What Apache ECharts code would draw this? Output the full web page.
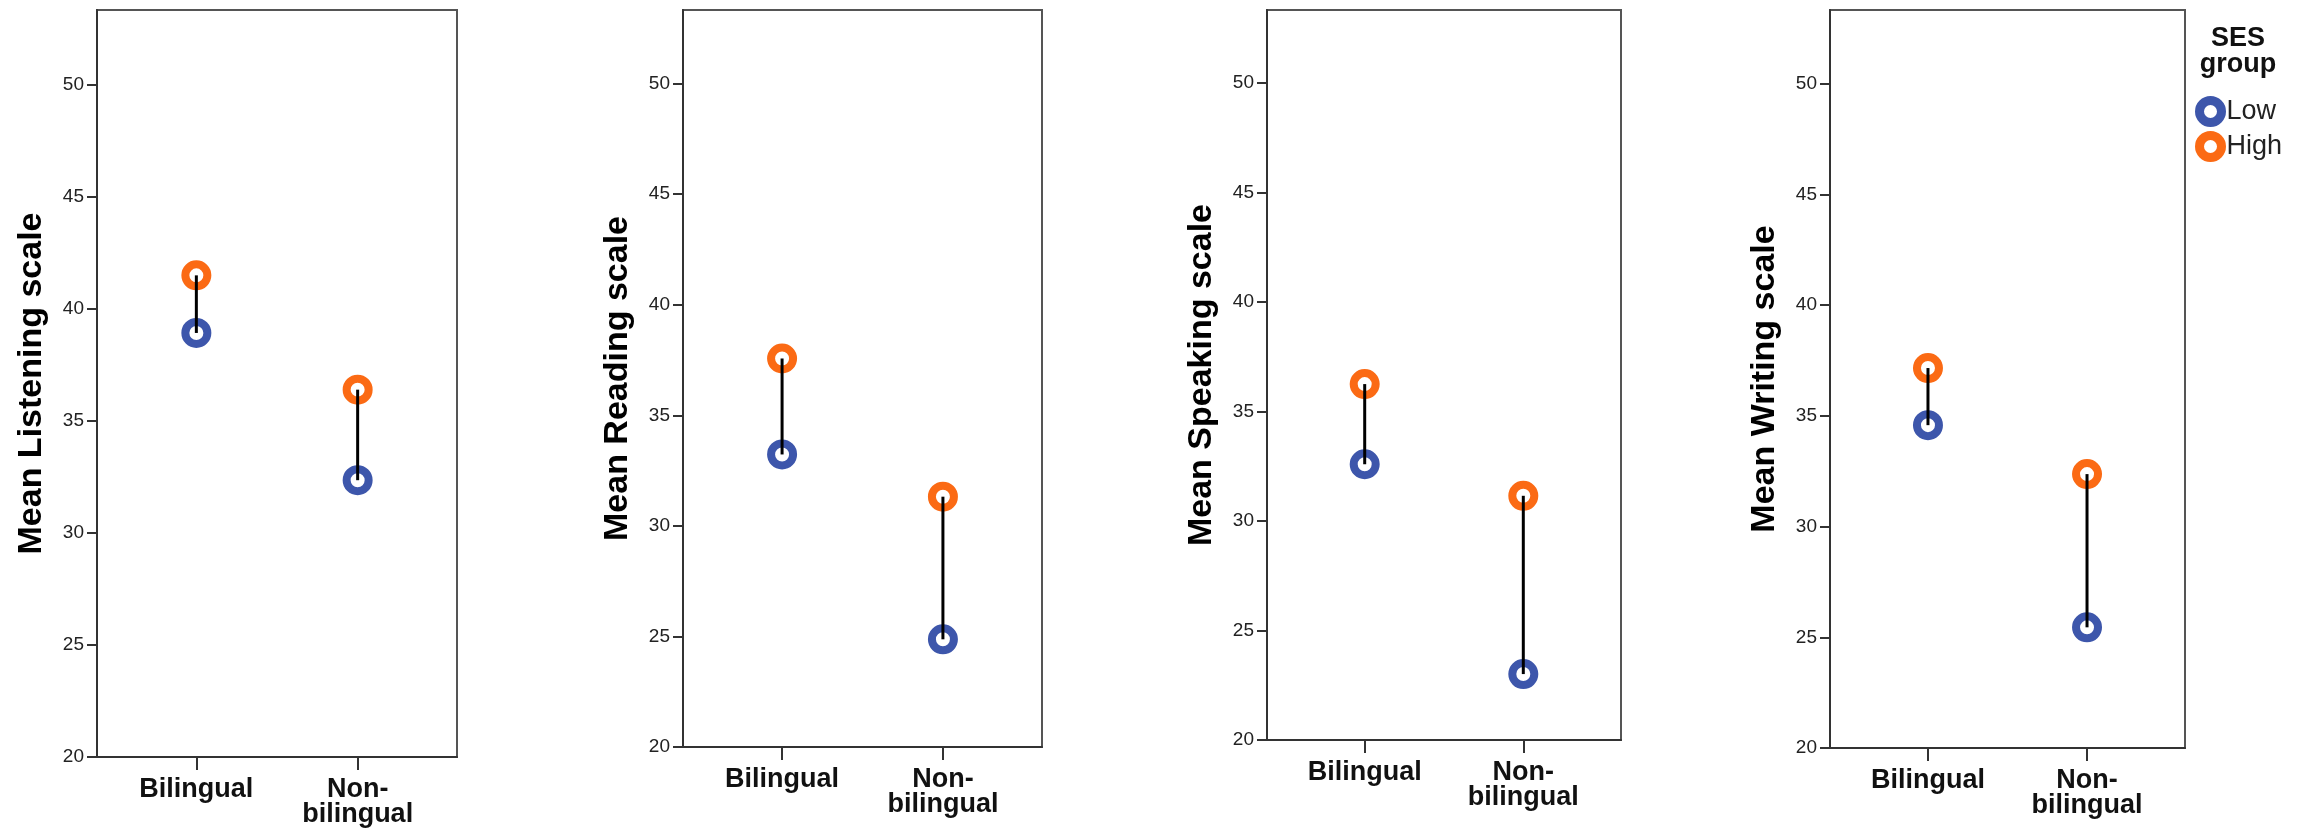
<!DOCTYPE html>
<html>
<head>
<meta charset="utf-8">
<title>Mean language scales by bilingual status and SES group</title>
<script src="https://cdn.jsdelivr.net/npm/echarts@6/dist/echarts.min.js"></script>
<style>
  html, body { margin: 0; padding: 0; background: #fff; }
  #chart { width: 2303px; height: 828px; }
</style>
</head>
<body>
<div id="chart"></div>
<script>
// Groups on the x axis and their displayed tick labels
const categories = ['Bilingual', 'Non-bilingual'];
const categoryLabels = ['Bilingual', 'Non-\nbilingual'];

// One panel per language scale
const scales = ['Listening', 'Reading', 'Speaking', 'Writing'];

// Mean scores, [Bilingual, Non-bilingual], per SES group
const lowListening  = [38.92, 32.35];
const highListening = [41.49, 36.39];
const lowReading    = [33.23, 24.87];
const highReading   = [37.57, 31.32];
const lowSpeaking   = [32.59, 23.01];
const highSpeaking  = [36.25, 31.15];
const lowWriting    = [34.58, 25.45];
const highWriting   = [37.16, 32.37];

// Y-axis tick values
const yTicks = [20, 25, 30, 35, 40, 45, 50];

const lowSeries  = [lowListening, lowReading, lowSpeaking, lowWriting];
const highSeries = [highListening, highReading, highSpeaking, highWriting];

const FONT = "'Liberation Sans', Arial, Helvetica, sans-serif";
const BLUE = '#3d56ab';
const ORANGE = '#fb6a14';
const Y_MIN = 20, Y_MAX = 53.33;

// Plot-box placement of each panel
const boxes = [
  { left: 97,   right: 457,  top: 10, bottom: 757 },
  { left: 683,  right: 1042, top: 10, bottom: 747 },
  { left: 1267, right: 1621, top: 10, bottom: 740 },
  { left: 1830, right: 2185, top: 10, bottom: 748 }
];

const grids = [], xAxes = [], yAxes = [], series = [];

scales.forEach((scale, i) => {
  const b = boxes[i];
  grids.push({
    left: b.left, top: b.top, width: b.right - b.left, height: b.bottom - b.top,
    show: true, borderColor: '#555', borderWidth: 2, backgroundColor: 'transparent'
  });
  xAxes.push({
    gridIndex: i, type: 'value', min: -0.616, max: 1.616,
    axisLine: { show: true, onZero: false, lineStyle: { color: '#333', width: 2 } },
    axisTick: { show: true, length: 13, customValues: [0, 1], lineStyle: { color: '#333', width: 2 } },
    axisLabel: {
      customValues: [0, 1], margin: 20,
      formatter: v => categoryLabels[Math.round(v)],
      fontFamily: FONT, fontSize: 27, fontWeight: 'bold', color: '#111', lineHeight: 25
    },
    splitLine: { show: false }
  });
  yAxes.push({
    gridIndex: i, type: 'value', min: Y_MIN, max: Y_MAX,
    axisLine: { show: true, onZero: false, lineStyle: { color: '#333', width: 2 } },
    axisTick: { show: true, length: 10, customValues: yTicks, lineStyle: { color: '#333', width: 2 } },
    axisLabel: { customValues: yTicks, margin: 13, fontFamily: FONT, fontSize: 19, color: '#222' },
    splitLine: { show: false },
    name: 'Mean ' + scale + ' scale', nameLocation: 'middle', nameRotate: 90, nameGap: 48,
    nameTextStyle: { fontFamily: FONT, fontSize: 34, fontWeight: 'bold', color: '#000' }
  });

  // Connector between the two SES means of each group
  series.push({
    type: 'custom', xAxisIndex: i, yAxisIndex: i, z: 5, silent: true,
    data: categories.map((c, k) => [k, lowSeries[i][k], highSeries[i][k]]),
    encode: { x: 0, y: [1, 2] },
    renderItem: (params, api) => {
      const p1 = api.coord([api.value(0), api.value(1)]);
      const p2 = api.coord([api.value(0), api.value(2)]);
      return {
        type: 'line',
        shape: { x1: p1[0], y1: p1[1], x2: p2[0], y2: p2[1] },
        style: { stroke: '#000', lineWidth: 3 }
      };
    }
  });
  series.push({
    name: 'Low', type: 'scatter', xAxisIndex: i, yAxisIndex: i, z: 3,
    symbol: 'circle', symbolSize: 22,
    itemStyle: { color: '#fff', borderColor: BLUE, borderWidth: 8, opacity: 1 },
    data: categories.map((c, k) => [k, lowSeries[i][k]])
  });
  series.push({
    name: 'High', type: 'scatter', xAxisIndex: i, yAxisIndex: i, z: 3,
    symbol: 'circle', symbolSize: 22,
    itemStyle: { color: '#fff', borderColor: ORANGE, borderWidth: 8, opacity: 1 },
    data: categories.map((c, k) => [k, highSeries[i][k]])
  });
});

const chart = echarts.init(document.getElementById('chart'), null, { renderer: 'canvas' });
chart.setOption({
  animation: false,
  backgroundColor: '#fff',
  grid: grids,
  xAxis: xAxes,
  yAxis: yAxes,
  series: series,
  legend: {
    orient: 'vertical', left: 2195, top: 96, padding: 0,
    itemWidth: 22, itemHeight: 22, itemGap: 4,
    data: [
      { name: 'Low', icon: 'circle', itemStyle: { color: '#fff', borderColor: BLUE, borderWidth: 9 } },
      { name: 'High', icon: 'circle', itemStyle: { color: '#fff', borderColor: ORANGE, borderWidth: 9 } }
    ],
    textStyle: { fontFamily: FONT, fontSize: 27, color: '#222' }
  },
  graphic: [{
    type: 'text', x: 2238, y: 26, z: 10,
    style: {
      text: 'SES\ngroup', fontFamily: FONT, fontSize: 27, fontWeight: 'bold',
      fill: '#111', align: 'center', verticalAlign: 'top', lineHeight: 26
    }
  }]
});
</script>
</body>
</html>
